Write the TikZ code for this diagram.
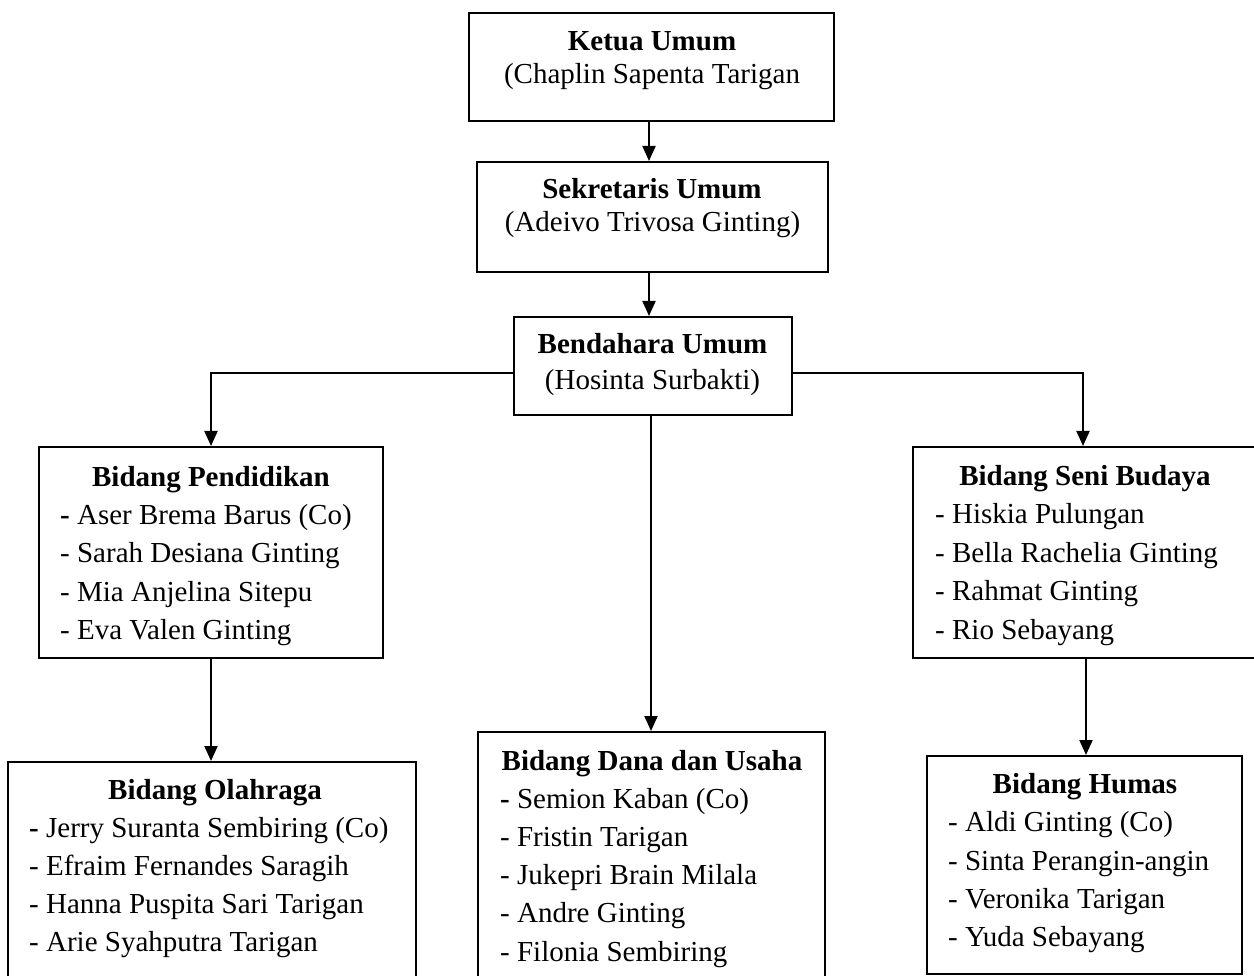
\documentclass[tikz,border=0pt]{standalone}
\usepackage{fontspec}
\setmainfont{Liberation Serif}
\usetikzlibrary{arrows.meta}
\tikzset{
  orgbox/.style={draw=black, line width=2pt, rectangle, inner sep=0pt},
  ttl/.style={anchor=base, font=\fontsize{29}{35}\selectfont\bfseries, inner sep=0pt},
  nm/.style={anchor=base, font=\fontsize{29}{35}\selectfont, inner sep=0pt},
  itm/.style={anchor=base west, font=\fontsize{29}{35}\selectfont, inner sep=0pt},
  conn/.style={line width=2pt, -{Triangle[width=13pt,length=15pt]}},
}
\begin{document}
\begin{tikzpicture}[x=1pt,y=-1pt]
\useasboundingbox (0,0) rectangle (1254,976);
\clip (0,0) rectangle (1254,976);
\fill[white] (0,0) rectangle (1254,976);

% boxes
\node[orgbox, minimum width=365pt, minimum height=108pt] (ketua) at (651.5,67) {};
\node[orgbox, minimum width=351pt, minimum height=110pt] (sek) at (652.5,217) {};
\node[orgbox, minimum width=278pt, minimum height=98pt] (bend) at (653,366) {};
\node[orgbox, minimum width=344pt, minimum height=211pt] (pend) at (211,552.5) {};
\node[orgbox, minimum width=344pt, minimum height=211pt] (seni) at (1085,552.5) {};
\node[orgbox, minimum width=408pt, minimum height=238pt] (olah) at (212,881) {};
\node[orgbox, minimum width=347pt, minimum height=268pt] (dana) at (651.5,866) {};
\node[orgbox, minimum width=315pt, minimum height=218pt] (humas) at (1084.5,865) {};

% connectors
\draw[conn] ([xshift=-2.5pt]ketua.south) -- ([xshift=-2.5pt]ketua.south |- sek.north);
\draw[conn] ([xshift=-3.5pt]sek.south) -- ([xshift=-3.5pt]sek.south |- bend.north);
\draw[conn] ([yshift=-7pt]bend.west) -| (pend.north);
\draw[conn] ([yshift=-7pt]bend.east) -| ([xshift=-2pt]seni.north);
\draw[conn] ([xshift=-2pt]bend.south) -- ([xshift=-2pt]bend.south |- dana.north);
\draw[conn] (pend.south) -- (pend.south |- olah.north);
\draw[conn] ([xshift=1pt]seni.south) -- ([xshift=1pt]seni.south |- humas.north);

% top texts
\node[ttl] (kt1) at (652,51) {Ketua Umum};
\node[nm] (kt2) at (652,84) {(Chaplin Sapenta Tarigan};
\node[ttl] (sk1) at (652,199) {Sekretaris Umum};
\node[nm] (sk2) at (652.5,232) {(Adeivo Trivosa Ginting)};
\node[ttl] (bd1) at (652.5,354) {Bendahara Umum};
\node[nm] (bd2) at (652.5,390) {(Hosinta Surbakti)};

% Pendidikan
\node[ttl] (pdt) at (211,486) {Bidang Pendidikan};
\foreach \t/\yy [count=\i] in {{\textbf{-} Aser Brema Barus (Co)}/524,{- Sarah Desiana Ginting}/562,{- Mia Anjelina Sitepu}/601,{- Eva Valen Ginting}/639}
  \node[itm] (pd\i) at (60,\yy) {\t};

% Seni Budaya
\node[ttl] (snt) at (1085,485) {Bidang Seni Budaya};
\foreach \t/\yy [count=\i] in {{- Hiskia Pulungan}/523,{- Bella Rachelia Ginting}/562,{- Rahmat Ginting}/600,{- Rio Sebayang}/639}
  \node[itm] (sn\i) at (935,\yy) {\t};

% Olahraga
\node[ttl] (olt) at (215,799) {Bidang Olahraga};
\foreach \t/\yy [count=\i] in {{\textbf{-} Jerry Suranta Sembiring (Co)}/837,{- Efraim Fernandes Saragih}/875,{- Hanna Puspita Sari Tarigan}/913,{- Arie Syahputra Tarigan}/951}
  \node[itm] (ol\i) at (29,\yy) {\t};

% Dana dan Usaha
\node[ttl] (dnt) at (652,770) {Bidang Dana dan Usaha};
\foreach \t/\yy [count=\i] in {{\textbf{-} Semion Kaban (Co)}/808,{- Fristin Tarigan}/846,{- Jukepri Brain Milala}/884,{- Andre Ginting}/922,{- Filonia Sembiring}/961}
  \node[itm] (dn\i) at (500,\yy) {\t};

% Humas
\node[ttl] (hmt) at (1085,793) {Bidang Humas};
\foreach \t/\yy [count=\i] in {{- Aldi Ginting (Co)}/831,{- Sinta Perangin-angin}/870,{- Veronika Tarigan}/908,{- Yuda Sebayang}/946}
  \node[itm] (hm\i) at (948,\yy) {\t};
\end{tikzpicture}
\end{document}
